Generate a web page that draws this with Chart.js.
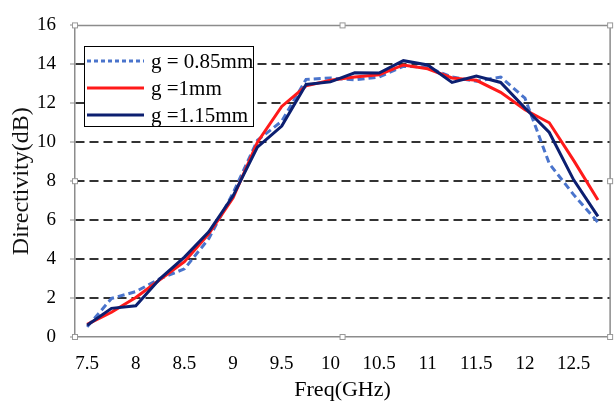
<!DOCTYPE html>
<html>
<head>
<meta charset="utf-8">
<script src="https://cdn.jsdelivr.net/npm/chart.js@4/dist/chart.umd.min.js"></script>
<style>
html,body{margin:0;padding:0;background:#fff;}
#wrap{width:614px;height:403px;position:relative;}
</style>
</head>
<body>
<div id="wrap"><canvas id="c" width="614" height="403"></canvas></div>
<script>
const freqLabels = ['7.5','7.75','8','8.25','8.5','8.75','9','9.25','9.5','9.75','10','10.25','10.5','10.75','11','11.25','11.5','11.75','12','12.25','12.5','12.75'];
const g085 = [0.52, 1.98, 2.33, 3.0, 3.5, 5.05, 7.4, 10.1, 11.08, 13.23, 13.3, 13.2, 13.35, 13.9, 13.85, 13.35, 13.13, 13.35, 12.26, 8.9, 7.31, 5.89];
const g100 = [0.65, 1.27, 2.03, 2.95, 3.87, 5.3, 7.15, 10.0, 11.84, 12.9, 13.18, 13.35, 13.47, 13.97, 13.77, 13.3, 13.18, 12.56, 11.67, 11.0, 9.07, 7.03];
const g115 = [0.6, 1.47, 1.6, 3.0, 4.1, 5.4, 7.25, 9.75, 10.83, 12.97, 13.1, 13.57, 13.55, 14.19, 13.97, 13.07, 13.4, 13.07, 11.76, 10.5, 8.07, 6.19];
const seriesNames = ['g = 0.85mm', 'g =1mm', 'g =1.15mm'];
const yTicks = [0, 2, 4, 6, 8, 10, 12, 14, 16];

const SERIF = "'Liberation Serif', 'DejaVu Serif', serif";

const frame = {
  id: 'frame',
  afterDatasetsDraw(chart) {
    const {ctx, chartArea: a} = chart;
    ctx.save();
    ctx.setLineDash([]);
    ctx.strokeStyle = '#8c8c8c';
    ctx.lineWidth = 1.5;
    ctx.beginPath();
    ctx.moveTo(a.left, a.top); ctx.lineTo(a.right, a.top); ctx.lineTo(a.right, a.bottom);
    ctx.stroke();
    // selection handles
    const mx = (a.left + a.right) / 2, my = (a.top + a.bottom) / 2;
    const pts = [[a.left,a.top],[mx,a.top],[a.right,a.top],[a.left,my],[a.right,my],[a.left,a.bottom],[mx,a.bottom],[a.right,a.bottom]];
    ctx.fillStyle = '#fff';
    ctx.strokeStyle = '#999';
    ctx.lineWidth = 1;
    pts.forEach(([x,y]) => { ctx.fillRect(x-2.5,y-2.5,5,5); ctx.strokeRect(x-2.5,y-2.5,5,5); });
    // legend
    const bx = 84.5, by = 46.5, bw = 169, bh = 80;
    ctx.fillStyle = '#fff';
    ctx.fillRect(bx, by, bw, bh);
    ctx.strokeStyle = '#000';
    ctx.lineWidth = 1;
    ctx.strokeRect(bx, by, bw, bh);
    const rows = [61, 88, 115];
    chart.data.datasets.forEach((ds, i) => {
      const y = rows[i];
      ctx.strokeStyle = ds.borderColor;
      ctx.lineWidth = 3;
      ctx.setLineDash(ds.borderDash && ds.borderDash.length ? [4, 3] : []);
      ctx.beginPath(); ctx.moveTo(87, y); ctx.lineTo(144, y); ctx.stroke();
      ctx.setLineDash([]);
      ctx.fillStyle = '#000';
      ctx.font = '21px ' + SERIF;
      ctx.textBaseline = 'middle';
      ctx.textAlign = 'left';
      ctx.fillText(ds.label, 151, y + 1);
    });
    ctx.restore();
  }
};

new Chart(document.getElementById('c'), {
  type: 'line',
  data: {
    labels: freqLabels,
    datasets: [
      {label: seriesNames[0], data: g085, borderColor: '#4a74cc', borderWidth: 3, borderDash: [7, 4], pointRadius: 0, tension: 0, order: 3},
      {label: seriesNames[1], data: g100, borderColor: '#ff1a1a', borderWidth: 3, pointRadius: 0, tension: 0, order: 2},
      {label: seriesNames[2], data: g115, borderColor: '#0c1f70', borderWidth: 3, pointRadius: 0, tension: 0, order: 1}
    ]
  },
  options: {
    responsive: false,
    animation: false,
    devicePixelRatio: 1,
    layout: {padding: {top: 19, right: 2, left: 0, bottom: 0}},
    plugins: {legend: {display: false}, tooltip: {enabled: false}},
    scales: {
      x: {
        type: 'category',
        offset: true,
        grid: {display: false, drawTicks: false},
        border: {display: true, color: '#8c8c8c', width: 1.5},
        ticks: {
          autoSkip: false, maxRotation: 0, color: '#000', padding: 16,
          font: {family: SERIF, size: 19},
          callback: function(v, i) { return i % 2 === 0 ? this.getLabelForValue(v) : ''; }
        },
        title: {display: true, text: 'Freq(GHz)', color: '#000', font: {family: SERIF, size: 22}, padding: {top: 0, bottom: 0}},
        afterFit: s => { s.height = 66; }
      },
      y: {
        min: 0, max: 16,
        afterBuildTicks: s => { s.ticks = yTicks.map(v => ({value: v})); },
        grid: {
          color: c => (c.tick && (c.tick.value === 0 || c.tick.value === 16)) ? 'rgba(0,0,0,0)' : '#333',
          lineWidth: 2,
          tickColor: '#8c8c8c', tickWidth: 1, tickLength: 5, tickBorderDash: []
        },
        border: {display: true, color: '#8c8c8c', width: 1.5, dash: [9, 5]},
        ticks: {color: '#000', padding: 14, font: {family: SERIF, size: 19}},
        title: {display: true, text: 'Directivity(dB)', color: '#111', font: {family: SERIF, size: 24}, padding: {top: 7, bottom: 0}},
        afterFit: s => { s.width = 75; }
      }
    }
  },
  plugins: [frame]
});
</script>
</body>
</html>
